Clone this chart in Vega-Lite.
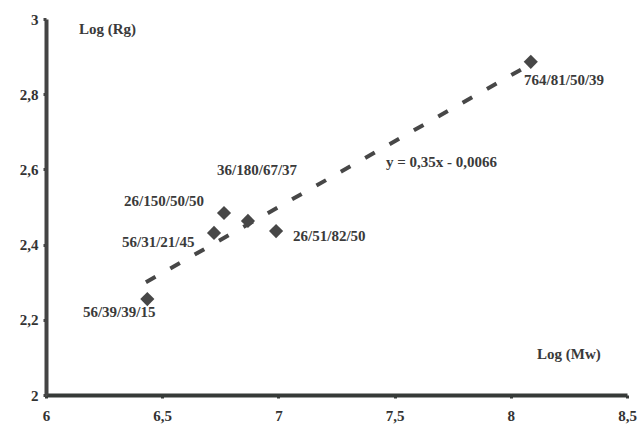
{
  "$schema": "https://vega.github.io/schema/vega-lite/v6.json",
  "width": 581,
  "height": 376,
  "autosize": "none",
  "padding": {"left": 46, "top": 19, "right": 12, "bottom": 31},
  "background": "white",
  "config": {
    "view": {"stroke": null},
    "font": "Liberation Serif",
    "axis": {"title": null, "grid": false, "domainWidth": 4, "tickSize": 3, "tickWidth": 3,
      "labelFont": "Liberation Serif", "labelFontWeight": "bold", "labelFontSize": 15, "labelColor": "#333333", "labelFlush": false},
    "axisX": {"domainColor": "#363a38", "tickColor": "#363a38", "labelPadding": 10},
    "axisY": {"domainColor": "#444444", "tickColor": "#444444", "labelPadding": 5}
  },
  "datasets": {
    "points": [
      {"mw": 6.436, "rg": 2.255, "name": "56/39/39/15", "lx": 6.159, "ly": 2.221},
      {"mw": 6.723, "rg": 2.431, "name": "56/31/21/45", "lx": 6.327, "ly": 2.407},
      {"mw": 6.766, "rg": 2.484, "name": "26/150/50/50", "lx": 6.336, "ly": 2.516},
      {"mw": 6.869, "rg": 2.463, "name": "36/180/67/37", "lx": 6.736, "ly": 2.598},
      {"mw": 6.99, "rg": 2.436, "name": "26/51/82/50", "lx": 7.063, "ly": 2.423},
      {"mw": 8.086, "rg": 2.886, "name": "764/81/50/39", "lx": 8.057, "ly": 2.838}
    ],
    "trend": [
      {"mw": 6.43, "rg": 2.30},
      {"mw": 8.06, "rg": 2.871}
    ],
    "notes": [
      {"x": 6.142, "y": 2.973, "t": "Log (Rg)"},
      {"x": 8.113, "y": 2.109, "t": "Log (Mw)"},
      {"x": 7.463, "y": 2.62, "t": "y = 0,35x - 0,0066"}
    ]
  },
  "encoding": {
    "x": {"type": "quantitative", "scale": {"domain": [6, 8.5], "nice": false, "zero": false},
      "axis": {"values": [6, 6.5, 7, 7.5, 8, 8.5], "labelExpr": "replace(format(datum.value, '~g'), '.', ',')"}},
    "y": {"type": "quantitative", "scale": {"domain": [2, 3], "nice": false, "zero": false},
      "axis": {"values": [2, 2.2, 2.4, 2.6, 2.8, 3], "labelExpr": "replace(format(datum.value, '~g'), '.', ',')"}}
  },
  "layer": [
    {
      "data": {"name": "trend"},
      "mark": {"type": "line", "color": "#474747", "strokeWidth": 4, "strokeDash": [11, 17], "strokeCap": "butt"},
      "encoding": {
        "x": {"field": "mw", "type": "quantitative"},
        "y": {"field": "rg", "type": "quantitative"}
      }
    },
    {
      "data": {"name": "points"},
      "mark": {"type": "point", "shape": "diamond", "filled": true, "color": "#474747", "opacity": 1, "size": 200},
      "encoding": {
        "x": {"field": "mw", "type": "quantitative"},
        "y": {"field": "rg", "type": "quantitative"}
      }
    },
    {
      "data": {"name": "points"},
      "mark": {"type": "text", "align": "left", "baseline": "middle", "font": "Liberation Serif", "fontWeight": "bold", "fontSize": 15, "color": "#3a3a3a"},
      "encoding": {
        "x": {"field": "lx", "type": "quantitative"},
        "y": {"field": "ly", "type": "quantitative"},
        "text": {"field": "name"}
      }
    },
    {
      "data": {"name": "notes"},
      "mark": {"type": "text", "align": "left", "baseline": "middle", "font": "Liberation Serif", "fontWeight": "bold", "fontSize": 15, "color": "#3a3a3a"},
      "encoding": {
        "x": {"field": "x", "type": "quantitative"},
        "y": {"field": "y", "type": "quantitative"},
        "text": {"field": "t"}
      }
    }
  ]
}
